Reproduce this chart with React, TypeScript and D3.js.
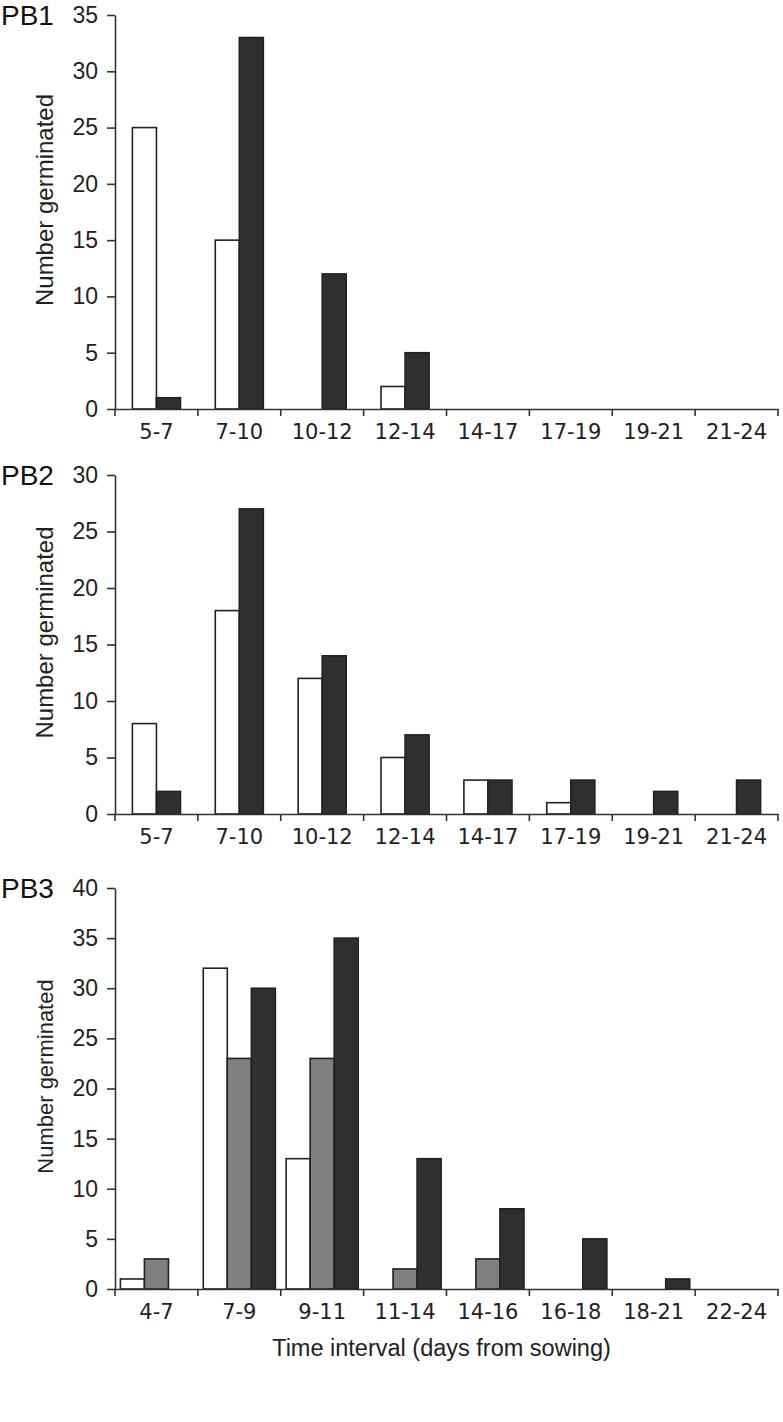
import { useEffect, useRef } from "react";
import * as d3 from "d3";

const W = 783;
const H = 1422;

const catsA = ["5-7", "7-10", "10-12", "12-14", "14-17", "17-19", "19-21", "21-24"];
const catsB = ["4-7", "7-9", "9-11", "11-14", "14-16", "16-18", "18-21", "22-24"];

const pb1White = [25, 15, 0, 2, 0, 0, 0, 0];
const pb1Black = [1, 33, 12, 5, 0, 0, 0, 0];

const pb2White = [8, 18, 12, 5, 3, 1, 0, 0];
const pb2Black = [2, 27, 14, 7, 3, 3, 2, 3];

const pb3White = [1, 32, 13, 0, 0, 0, 0, 0];
const pb3Grey = [3, 23, 23, 2, 3, 0, 0, 0];
const pb3Black = [0, 30, 35, 13, 8, 5, 1, 0];

const fills = { white: "#ffffff", grey: "#808080", black: "#2f2f2f" };

const panels = [
  { name: "PB1", cats: catsA, max: 35, top: 15, bottom: 409, titleSize: 24,
    series: [{ v: pb1White, c: fills.white }, { v: pb1Black, c: fills.black }] },
  { name: "PB2", cats: catsA, max: 30, top: 475, bottom: 814, titleSize: 24,
    series: [{ v: pb2White, c: fills.white }, { v: pb2Black, c: fills.black }] },
  { name: "PB3", cats: catsB, max: 40, top: 888, bottom: 1289, titleSize: 22,
    series: [{ v: pb3White, c: fills.white }, { v: pb3Grey, c: fills.grey }, { v: pb3Black, c: fills.black }] },
];

export default function App() {
  const svgRef = useRef<SVGSVGElement>(null);

  useEffect(() => {
    const svg = d3.select(svgRef.current);
    svg.selectAll("*").remove();
    const left = 115;
    const right = 778;

    panels.forEach((p, pi) => {
      const g = svg.append("g");
      const x = d3.scaleBand().domain(p.cats).range([left, right]).padding(0);
      const y = d3.scaleLinear().domain([0, p.max]).range([p.bottom, p.top]);
      const bw = x.bandwidth() * 0.29;
      const n = p.series.length;

      // bars
      p.series.forEach((s, si) => {
        g.selectAll(".bar" + si)
          .data(s.v.map((v, i) => ({ v, c: p.cats[i] })).filter((d) => d.v > 0))
          .enter()
          .append("rect")
          .attr("x", (d) => x(d.c)! + x.bandwidth() / 2 - (n * bw) / 2 + si * bw)
          .attr("y", (d) => y(d.v))
          .attr("width", bw)
          .attr("height", (d) => y(0) - y(d.v))
          .attr("fill", s.c)
          .attr("stroke", "#222")
          .attr("stroke-width", 1.6);
      });

      // y axis
      const yAxis = g.append("g")
        .attr("transform", `translate(${left},0)`)
        .call(d3.axisLeft(y).tickValues(d3.range(0, p.max + 1, 5)).tickSize(8).tickSizeOuter(0).tickPadding(9));
      yAxis.select(".domain").attr("stroke", "#333").attr("stroke-width", 1.6);
      yAxis.selectAll(".tick line").attr("stroke", "#333").attr("stroke-width", 1.6);
      yAxis.selectAll("text")
        .attr("font-family", "'Liberation Sans', Arial, sans-serif")
        .attr("font-size", 23)
        .attr("fill", "#222");

      // x axis
      const xAxis = g.append("g")
        .attr("transform", `translate(0,${p.bottom})`)
        .call(d3.axisBottom(x).tickSize(0).tickSizeOuter(0).tickPadding(15));
      xAxis.select(".domain").attr("stroke", "#333").attr("stroke-width", 1.6);
      xAxis.selectAll("text")
        .attr("font-family", "'DejaVu Sans', Verdana, sans-serif")
        .attr("font-size", 21)
        .attr("fill", "#222");
      const bounds = [...p.cats.map((c) => x(c)!), right];
      g.selectAll(".xt")
        .data(bounds)
        .enter()
        .append("line")
        .attr("x1", (d) => d)
        .attr("x2", (d) => d)
        .attr("y1", p.bottom)
        .attr("y2", p.bottom + 7)
        .attr("stroke", "#333")
        .attr("stroke-width", 1.6);

      // y title
      g.append("text")
        .attr("transform", `translate(53,${(p.top + p.bottom) / 2 - 12}) rotate(-90)`)
        .attr("text-anchor", "middle")
        .attr("font-family", "'Liberation Sans', Arial, sans-serif")
        .attr("font-size", p.titleSize)
        .attr("fill", "#222")
        .text("Number germinated");

      // panel label
      g.append("text")
        .attr("x", 1)
        .attr("y", p.top + 10)
        .attr("font-family", "'Liberation Sans', Arial, sans-serif")
        .attr("font-size", 28)
        .attr("fill", "#111")
        .text(p.name);

      if (pi === panels.length - 1) {
        g.append("text")
          .attr("x", (left + right) / 2 - 5)
          .attr("y", p.bottom + 67)
          .attr("text-anchor", "middle")
          .attr("font-family", "'Liberation Sans', Arial, sans-serif")
          .attr("font-size", 23.5)
          .attr("fill", "#222")
          .text("Time interval (days from sowing)");
      }
    });
  }, []);

  return (
    <svg
      ref={svgRef}
      width={W}
      height={H}
      style={{ position: "absolute", left: 0, top: 0, background: "#fff" }}
    ></svg>
  );
}
